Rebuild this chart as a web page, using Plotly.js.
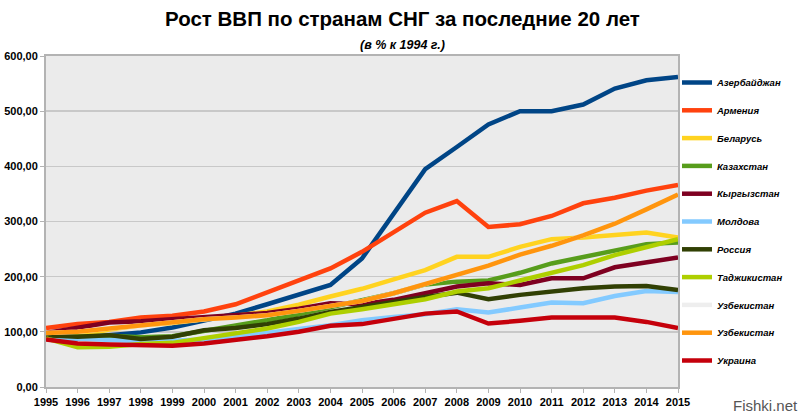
<!DOCTYPE html>
<html><head><meta charset="utf-8">
<script src="https://cdn.plot.ly/plotly-3.0.1.min.js"></script>
<style>html,body{margin:0;padding:0;background:#fff}#chart{width:800px;height:418px}</style>
</head><body><div id="chart"></div>
<script>
const years = [1995,1996,1997,1998,1999,2000,2001,2002,2003,2004,2005,2006,2007,2008,2009,2010,2011,2012,2013,2014,2015];
const yTicks = [0,100,200,300,400,500,600];
const names = ["Азербайджан","Армения","Беларусь","Казахстан","Кыргызстан","Молдова","Россия","Таджикистан","Узбекистан","Узбекистан","Украина"];
const aze = [90,88,94,99,108,120,133,150,167,185,233,315,395,435,476,500,500,512,541,556,562];
const arm = [107,114,118,126,129,137,150,171,194,215,245,280,316,337,290,295,310,333,343,356,366];
const bel = [90,93,104,112,116,122,129,137,149,164,178,195,212,236,236,254,268,271,275,280,271];
const kaz = [92,91,93,90,92,101,111,121,132,145,157,170,186,191,193,207,224,235,248,259,262];
const kgz = [98,108,117,119,123,126,131,134,142,152,150,158,170,182,188,185,197,197,217,227,235];
const mda = [90,87,85,83,84,86,91,97,105,112,121,127,132,141,135,144,153,152,165,174,172];
const rus = [94,91,94,87,91,103,107,114,124,136,145,155,163,171,159,167,174,179,182,183,176];
const tjk = [88,72,73,78,80,88,97,106,118,133,141,149,159,173,179,193,206,221,239,253,268];
const uzbW = [98,100,106,112,118,123,126,130,138,146,156,170,186,202,220,240,256,275,296,322,349];
const uzb = [98,100,106,112,118,123,126,130,138,146,156,170,186,202,220,240,256,275,296,322,349];
const ukr = [86,79,77,75,75,79,85,92,100,111,114,124,133,137,115,120,126,126,126,118,107];
const series = [aze,arm,bel,kaz,kgz,mda,rus,tjk,uzbW,uzb,ukr];
const colors = ["#004586","#ff420e","#ffd320","#579d1c","#7e0021","#83caff","#314004","#aecf00","#eeeeee","#ff950e","#c5000b"];

const traces = series.map((s,i)=>({
  x: years, y: s, name: names[i], type:'scatter', mode:'lines',
  legendgroup: 'g'+i,
  line:{color:colors[i], width:4.5}
}));

const layout = {
  width:800, height:418,
  margin:{l:46, r:120, t:56, b:31},
  paper_bgcolor:'#ffffff', plot_bgcolor:'#ebebeb',
  separators:', ',
  title:{text:'<b>Рост ВВП по странам СНГ за последние 20 лет</b>', x:0.503, xref:'container', y:0.955, yref:'container', yanchor:'middle',
    font:{family:'Liberation Sans Narrow, Liberation Sans, Arial', size:20.5, color:'#000'}},
  annotations:[
    {text:'<b><i>(в % к 1994 г.)</i></b>', xref:'paper', yref:'paper', x:(404-46)/634, y:(387-45)/331, xanchor:'center', yanchor:'middle', showarrow:false,
     font:{family:'Liberation Sans, Arial', size:12.5, color:'#000'}},
    {text:'Fishki.net', xref:'paper', yref:'paper', x:(768-46)/634, y:(387-405)/331, xanchor:'center', yanchor:'middle', showarrow:false,
     font:{family:'Liberation Sans Narrow, Liberation Sans, Arial', size:15, color:'#555'}}
  ],
  xaxis:{range:[1995,2015], tickvals:years, ticktext:years.map(String), showgrid:false, zeroline:false,
    showline:true, linecolor:'#b3b3b3', linewidth:2, mirror:true, ticks:'outside', ticklen:4, tickcolor:'#b3b3b3',
    tickfont:{family:'Liberation Sans, Arial', size:11, color:'#000', weight:'bold'}},
  yaxis:{range:[0,600], tickvals:yTicks, tickformat:'.2f', showgrid:true, gridcolor:'#c8c8c8', gridwidth:1.5, zeroline:false,
    showline:true, linecolor:'#b3b3b3', linewidth:2, mirror:true, ticks:'outside', ticklen:4, tickcolor:'#b3b3b3',
    tickfont:{family:'Liberation Sans, Arial', size:11, color:'#000', weight:'bold'}},
  showlegend:true,
  legend:{x:(679-46)/634, xanchor:'left', y:(387-68)/331, yanchor:'top', tracegroupgap:8.8, traceorder:'grouped',
    font:{family:'Liberation Sans, Arial', size:9.5, color:'#000', weight:'bold', style:'italic'}, bgcolor:'rgba(0,0,0,0)'}
};
Plotly.newPlot('chart', traces, layout, {displayModeBar:false, staticPlot:true});
</script></body></html>
